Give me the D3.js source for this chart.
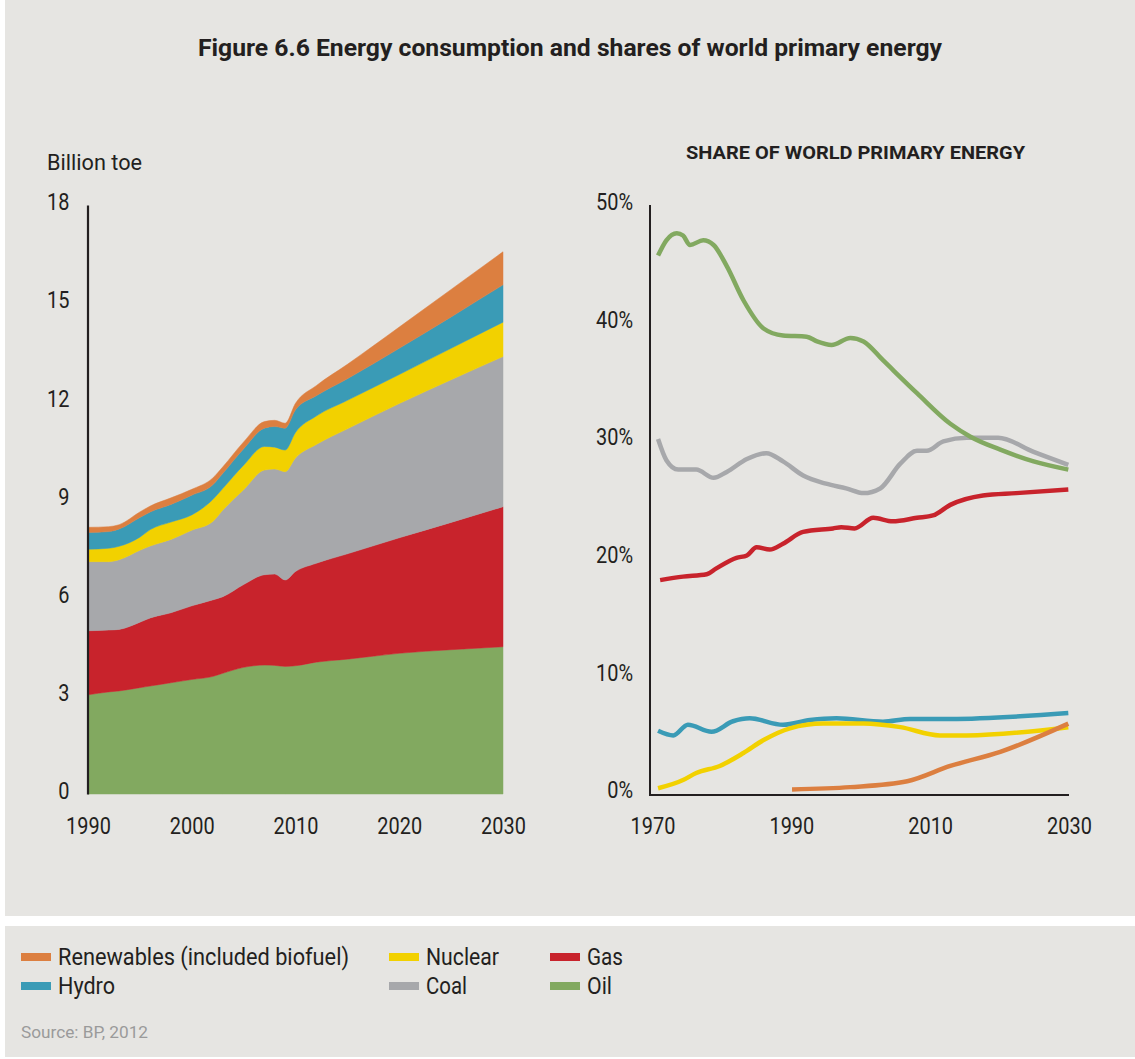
<!DOCTYPE html>
<html><head><meta charset="utf-8">
<script src="https://cdn.jsdelivr.net/npm/d3@7"></script>
<style>
body{margin:0;background:#fff;}
svg{display:block}
text{font-family:Roboto,"Liberation Sans",sans-serif;fill:#231f20;}
</style>
</head><body>
<svg id="c" width="1135" height="1059"></svg>
<script>
// ---------- DATA ----------
const titleText = "Figure 6.6 Energy consumption and shares of world primary energy";
const rightTitle = "SHARE OF WORLD PRIMARY ENERGY";
const leftUnit = "Billion toe";
const sourceText = "Source: BP, 2012";

// Left: stacked consumption (billion toe)
const years = [1990,1992,1993,1995,1996,1998,2000,2002,2003,2005,2007,2008,2009,2010,2012,2015,2020,2025,2030];
const oil      = [3.03,3.12,3.15,3.25,3.30,3.40,3.50,3.59,3.69,3.87,3.94,3.93,3.90,3.92,4.03,4.12,4.30,4.41,4.50];
const gas      = [1.96,1.89,1.88,2.00,2.08,2.14,2.25,2.34,2.34,2.53,2.76,2.79,2.64,2.88,3.02,3.22,3.53,3.89,4.28];
const coal     = [2.11,2.09,2.13,2.20,2.20,2.24,2.31,2.39,2.65,2.90,3.20,3.21,3.31,3.47,3.63,3.82,4.10,4.36,4.59];
const nuclear  = [0.38,0.41,0.41,0.40,0.50,0.53,0.47,0.67,0.66,0.75,0.72,0.67,0.66,0.78,0.87,0.87,0.89,0.96,1.05];
const hydro    = [0.51,0.51,0.53,0.60,0.54,0.54,0.60,0.45,0.46,0.50,0.56,0.63,0.67,0.69,0.62,0.66,0.80,0.96,1.14];
const renew    = [0.16,0.15,0.13,0.17,0.18,0.20,0.18,0.21,0.20,0.21,0.20,0.19,0.15,0.20,0.31,0.44,0.65,0.84,1.01];
const leftYTicks = [0,3,6,9,12,15,18];
const leftXTicks = [1990,2000,2010,2020,2030];

// Right: shares (%)
const oilShareYears = [1970.8,1972.0,1973.5,1974.4,1975.4,1977.3,1978.8,1980.7,1983.1,1986.0,1988.8,1992.2,1993.7,1995.8,1998.5,2000.4,2003.2,2008.1,2012.9,2015.8,2020.1,2024.9,2029.9];
const oilShare      = [45.7,47.0,47.6,47.4,46.6,47.0,46.6,44.8,41.9,39.5,38.9,38.8,38.4,38.1,38.7,38.4,36.8,34.0,31.4,30.3,29.2,28.2,27.5];
const coalShareYears = [1970.8,1972.0,1973.7,1976.3,1978.8,1980.7,1983.6,1986.4,1988.8,1991.7,1995.0,1997.9,2000.4,2002.8,2005.7,2008.1,2009.5,2011.9,2015.3,2019.8,2024.9,2029.9];
const coalShare      = [30.1,28.3,27.5,27.5,26.8,27.3,28.4,28.9,28.2,27.0,26.3,25.9,25.5,25.9,28.0,29.1,29.1,29.9,30.2,30.2,29.0,27.9];
const gasShareYears = [1971.1,1974.4,1977.8,1979.2,1982.1,1983.6,1985.0,1986.9,1988.8,1991.7,1996.0,1997.2,1999.1,2001.8,2004.6,2008.1,2010.4,2012.9,2017.6,2022.4,2029.9];
const gasShare      = [18.1,18.4,18.6,19.1,20.0,20.2,20.9,20.7,21.2,22.2,22.5,22.6,22.5,23.4,23.1,23.4,23.6,24.5,25.3,25.5,25.8];
const hydroShareYears = [1970.8,1973.0,1975.1,1978.5,1981.6,1984.0,1988.8,1992.7,1996.5,2003.2,2007.1,2012.9,2029.9];
const hydroShare      = [5.3,4.9,5.8,5.2,6.1,6.35,5.8,6.2,6.35,6.06,6.3,6.3,6.8];
const nuclearShareYears = [1970.8,1974.4,1976.3,1979.7,1983.1,1986.0,1989.8,1994.6,2000.4,2005.7,2011.4,2015.3,2029.9];
const nuclearShare      = [0.4,1.1,1.7,2.3,3.4,4.5,5.5,5.9,5.9,5.6,4.9,4.9,5.6];
const renewShareYears = [1990.1,1998.5,2006.7,2012.9,2020.1,2029.9];
const renewShare      = [0.3,0.5,1.0,2.3,3.5,5.9];
const rightYTicks = [0,10,20,30,40,50];
const rightXTicks = [1970,1990,2010,2030];

const seriesNames = ["Oil","Gas","Coal","Nuclear","Hydro","Renewables (included biofuel)"];
const colors = {"Oil":"#82a960","Gas":"#c8232c","Coal":"#a7a8ab","Nuclear":"#f2d100","Hydro":"#3a9bb6","Renewables (included biofuel)":"#dc7f40"};
const legendRows = [["Renewables (included biofuel)","Nuclear","Gas"],["Hydro","Coal","Oil"]];
const legendWidths = {"Renewables (included biofuel)":291,"Nuclear":73,"Gas":36,"Hydro":57,"Coal":41,"Oil":25};

// ---------- DRAW ----------
const svg = d3.select("#c");
const bg = "#e6e5e2";
svg.append("rect").attr("x",5).attr("y",0).attr("width",1130).attr("height",916).attr("fill",bg);
svg.append("rect").attr("x",5).attr("y",926).attr("width",1130).attr("height",131).attr("fill",bg);

function squeeze(sel, k){ sel.each(function(){ const L=this.getComputedTextLength(); d3.select(this).attr("textLength",L*k).attr("lengthAdjust","spacingAndGlyphs"); }); }
function fitW(sel, w){ sel.attr("textLength",w).attr("lengthAdjust","spacingAndGlyphs"); }

fitW(svg.append("text").attr("x",570).attr("y",56).attr("text-anchor","middle").attr("font-size",23).attr("font-weight","bold").text(titleText),744);
fitW(svg.append("text").attr("x",855.5).attr("y",159).attr("text-anchor","middle").attr("font-size",18).attr("font-weight","bold").text(rightTitle),339);
fitW(svg.append("text").attr("x",47).attr("y",170).attr("font-size",22).text(leftUnit),95);

// Left stacked area
const xL = d3.scaleLinear().domain([1990,2030]).range([88,503]);
const yL = d3.scaleLinear().domain([0,18]).range([794,205]);
const rows = years.map((y,i)=>({year:y,"Oil":oil[i],"Gas":gas[i],"Coal":coal[i],"Nuclear":nuclear[i],"Hydro":hydro[i],"Renewables (included biofuel)":renew[i]}));
const stack = d3.stack().keys(seriesNames)(rows);
const area = d3.area().x(d=>xL(d.data.year)).y0(d=>yL(d[0])).y1(d=>yL(d[1])).curve(d3.curveMonotoneX);
svg.append("g").selectAll("path").data(stack).join("path").attr("d",area).attr("fill",d=>colors[d.key]).attr("stroke",d=>colors[d.key]).attr("stroke-width",0.5);

const gLY = svg.append("g").attr("transform","translate(87.5,0)")
  .call(d3.axisLeft(yL).tickValues(leftYTicks).tickSize(0).tickSizeOuter(0).tickPadding(18));
gLY.select(".domain").attr("stroke","#231f20").attr("stroke-width",2.2);
gLY.selectAll("text").attr("font-size",24).attr("font-family",null).attr("fill","#231f20").attr("dy","0.32em").attr("y",-3);
squeeze(gLY.selectAll("text"),0.83);

const gLX = svg.append("g").attr("transform","translate(0,794)")
  .call(d3.axisBottom(xL).tickValues(leftXTicks).tickFormat(d3.format("d")).tickSize(0).tickSizeOuter(0));
gLX.select(".domain").remove();
gLX.selectAll("text").attr("font-size",24).attr("font-family",null).attr("fill","#231f20").attr("y",40).attr("dy",0);
squeeze(gLX.selectAll("text"),0.83);

// Right line chart
const xR = d3.scaleLinear().domain([1970,2030]).range([652.5,1069]);
const yR = d3.scaleLinear().domain([0,50]).range([793,205]);
const lines = [
  ["Coal",coalShareYears,coalShare],
  ["Oil",oilShareYears,oilShare],
  ["Gas",gasShareYears,gasShare],
  ["Hydro",hydroShareYears,hydroShare],
  ["Nuclear",nuclearShareYears,nuclearShare],
  ["Renewables (included biofuel)",renewShareYears,renewShare]
];
const line = d3.line().x(d=>xR(d[0])).y(d=>yR(d[1])).curve(d3.curveMonotoneX);
svg.append("g").selectAll("path").data(lines).join("path")
  .attr("d",d=>line(d[1].map((y,i)=>[y,d[2][i]])))
  .attr("fill","none").attr("stroke",d=>colors[d[0]]).attr("stroke-width",4.5).attr("stroke-linejoin","round");

const gRY = svg.append("g").attr("transform","translate(650,0)")
  .call(d3.axisLeft(yR).tickValues(rightYTicks).tickFormat(d=>d+"%").tickSize(0).tickSizeOuter(0).tickPadding(17));
gRY.select(".domain").remove();
gRY.selectAll("text").attr("font-size",24).attr("font-family",null).attr("fill","#231f20").attr("dy","0.32em").attr("y",-3);
squeeze(gRY.selectAll("text"),0.83);
svg.append("path").attr("d",`M650,${yR(50)}V795H${xR(2030)}`).attr("fill","none").attr("stroke","#231f20").attr("stroke-width",2);

const gRX = svg.append("g").attr("transform","translate(0,794)")
  .call(d3.axisBottom(xR).tickValues(rightXTicks).tickFormat(d3.format("d")).tickSize(0).tickSizeOuter(0));
gRX.select(".domain").remove();
gRX.selectAll("text").attr("font-size",24).attr("font-family",null).attr("fill","#231f20").attr("y",40).attr("dy",0);
squeeze(gRX.selectAll("text"),0.83);

// Legend
const legCols = [21,389,550];
const legY = [957,986];
legendRows.forEach((row,ri)=>{
  row.forEach((name,ci)=>{
    const g = svg.append("g");
    g.append("rect").attr("x",legCols[ci]).attr("y",legY[ri]-4).attr("width",30).attr("height",8).attr("fill",colors[name]);
    const t = g.append("text").attr("x",legCols[ci]+37).attr("y",legY[ri]+8).attr("font-size",23).text(name);
    fitW(t,legendWidths[name]);
  });
});
fitW(svg.append("text").attr("x",21).attr("y",1038).attr("font-size",17).attr("fill","#9a9a9a").style("fill","#9a9a9a").text(sourceText),127);
</script>
</body></html>
